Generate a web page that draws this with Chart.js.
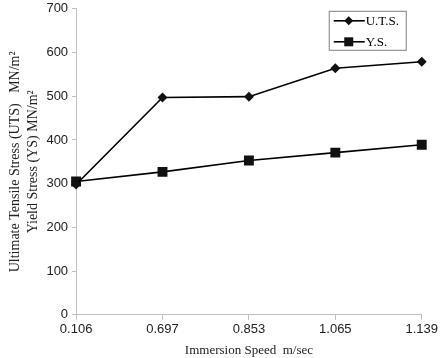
<!DOCTYPE html>
<html lang="en">
  <head>
    <meta charset="UTF-8" />
    <title>Immersion Speed vs Stress</title>
    <script src="https://cdn.jsdelivr.net/npm/chart.js"></script>
    <style>
      html, body {
        margin: 0;
        padding: 0;
        background: #fff;
        overflow: hidden;
      }
      /* pulled up a little so the 700 label sits near the top edge */
      #wrap {
        width: 440px;
        height: 361px;
        margin-top: -3px;
      }
    </style>
  </head>
  <body>
    <div id="wrap"><canvas id="stressChart"></canvas></div>

    <script>
      const speeds = ["0.106", "0.697", "0.853", "1.065", "1.139"];
      const utsValues = [298, 497, 499, 564, 579];
      const ysValues = [305, 327, 353, 371, 389];
      const yTicks = [0, 100, 200, 300, 400, 500, 600, 700];

      const serif = "'Liberation Serif', 'Times New Roman', serif";
      const sans = "'Liberation Sans', Arial, sans-serif";
      const axisGray = "#bfbfbf";

      // legend in a box inside the plot, drawn by hand
      const boxLegend = {
        id: "boxLegend",
        afterDraw(chart) {
          const ctx = chart.ctx;
          const area = chart.chartArea;
          const right = area.right - 16;
          const left = right - 77;
          const top = area.top + 2;
          ctx.save();
          ctx.strokeStyle = "#7f7f7f";
          ctx.lineWidth = 1;
          ctx.strokeRect(left + 0.5, top + 0.5, 77, 39);
          chart.data.datasets.forEach((ds, i) => {
            const y = top + 10 + i * 21;
            ctx.strokeStyle = "#000";
            ctx.lineWidth = 1.6;
            ctx.beginPath();
            ctx.moveTo(left + 5, y);
            ctx.lineTo(left + 36, y);
            ctx.stroke();
            ctx.fillStyle = "#111";
            const cx = left + 20;
            ctx.beginPath();
            if (ds.pointStyle === "rectRot") {
              ctx.moveTo(cx, y - 4.5);
              ctx.lineTo(cx + 4.5, y);
              ctx.lineTo(cx, y + 4.5);
              ctx.lineTo(cx - 4.5, y);
            } else {
              ctx.rect(cx - 4.5, y - 4.5, 9, 9);
            }
            ctx.closePath();
            ctx.fill();
            ctx.fillStyle = "#000";
            ctx.font = "13px " + serif;
            ctx.textBaseline = "middle";
            ctx.textAlign = "left";
            ctx.fillText(ds.label, left + 37, y + 1);
          });
          ctx.restore();
        },
      };

      const ctx = document.getElementById("stressChart").getContext("2d");
      new Chart(ctx, {
        type: "line",
        data: {
          labels: speeds,
          datasets: [
            {
              label: "U.T.S.",
              data: utsValues,
              borderColor: "#000",
              borderWidth: 1.6,
              backgroundColor: "#111",
              pointStyle: "rectRot",
              pointRadius: 5,
              pointBorderWidth: 0,
              tension: 0,
            },
            {
              label: "Y.S.",
              data: ysValues,
              borderColor: "#000",
              borderWidth: 1.6,
              backgroundColor: "#111",
              pointStyle: "rect",
              pointRadius: 7,
              pointBorderWidth: 0,
              tension: 0,
            },
          ],
        },
        options: {
          responsive: true,
          maintainAspectRatio: false,
          animation: false,
          layout: {
            padding: { left: 6, right: 14, top: 0, bottom: 0 },
          },
          plugins: {
            legend: { display: false },
            tooltip: { enabled: false },
          },
          scales: {
            x: {
              offset: false,
              grid: {
                drawOnChartArea: false,
                color: axisGray,
                tickLength: 5,
              },
              border: { color: axisGray, width: 1 },
              ticks: {
                color: "#222",
                font: { family: sans, size: 13 },
                padding: 2,
                maxRotation: 0,
              },
              title: {
                display: true,
                text: "Immersion Speed  m/sec",
                color: "#222",
                font: { family: serif, size: 13 },
                padding: { top: 3, bottom: 0 },
              },
            },
            y: {
              min: 0,
              max: 700,
              afterBuildTicks: (axis) => {
                axis.ticks = yTicks.map((v) => ({ value: v }));
              },
              grid: {
                drawOnChartArea: false,
                color: axisGray,
                tickLength: 4,
              },
              border: { color: axisGray, width: 1 },
              ticks: {
                color: "#222",
                font: { family: sans, size: 13 },
                padding: 4,
              },
              title: {
                display: true,
                text: [
                  "Ultimate Tensile Stress (UTS)   MN/m²",
                  "Yield Stress (YS) MN/m²",
                ],
                color: "#222",
                font: { family: serif, size: 14, lineHeight: 1.3 },
                padding: { top: 0, bottom: 0 },
              },
            },
          },
        },
        plugins: [boxLegend],
      });
    </script>
  </body>
</html>
